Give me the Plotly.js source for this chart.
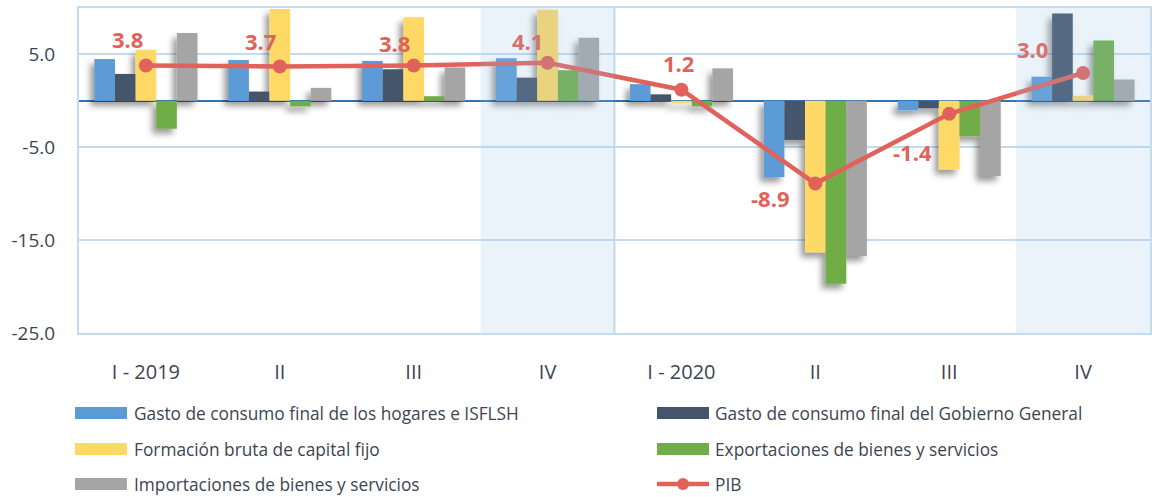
<!DOCTYPE html>
<html>
<head>
<meta charset="utf-8">
<script src="https://cdn.plot.ly/plotly-3.0.1.min.js"></script>
<style>
  html, body { margin: 0; padding: 0; background: #ffffff; }
  #chart { width: 1152px; height: 497px; }
</style>
</head>
<body>
<svg width="0" height="0" style="position:absolute">
  <defs>
    <filter id="barShadow" x="-20%" y="-20%" width="140%" height="140%">
      <feDropShadow dx="-4" dy="5" stdDeviation="3" flood-color="#000000" flood-opacity="0.4"/>
    </filter>
  </defs>
</svg>
<div id="chart"></div>
<script>
// ---- data ----
const categories = ['I - 2019', 'II', 'III', 'IV', 'I - 2020', 'II', 'III', 'IV'];
const hogares      = [4.5, 4.4, 4.3, 4.6, 1.8, -8.2, -1.0, 2.6];
const gobierno     = [2.9, 1.0, 3.4, 2.5, 0.7, -4.2, -0.8, 9.4];
const fbcf         = [5.5, 9.9, 9.0, 9.8, -0.3, -16.3, -7.4, 0.55];
const exportaciones= [-3.0, -0.6, 0.5, 3.3, -0.6, -19.7, -3.8, 6.5];
const importaciones= [7.3, 1.4, 3.6, 6.8, 3.5, -16.7, -8.1, 2.3];
const pib          = [3.8, 3.7, 3.8, 4.1, 1.2, -8.9, -1.4, 3.0];
const seriesNames = [
  'Gasto de consumo final de los hogares e ISFLSH',
  'Gasto de consumo final del Gobierno General',
  'Formación bruta de capital fijo',
  'Exportaciones de bienes y servicios',
  'Importaciones de bienes y servicios',
  'PIB'
];
const yTicks = [5, -5, -15, -25];
const shadedIdx = [3, 7];

// ---- style ----
const colors = ['#5B9BD5', '#44546A', '#FFD966', '#70AD47', '#A5A5A5', '#E0625A'];
const fadedLabel = '#D8716D';
const textColor = '#3D4552';
const W = 1152, H = 497;
const M = {l: 79, r: 2, t: 8, b: 164};
const pw = W - M.l - M.r, ph = H - M.t - M.b;
const px2x = p => (p - M.l) / pw;
const py2y = p => (H - M.b - p) / ph;

const xIdx = categories.map((_, i) => i);
const barSeries = [hogares, gobierno, fbcf, exportaciones, importaciones];

const traces = barSeries.map((vals, i) => ({
  type: 'bar',
  x: xIdx,
  y: vals,
  name: seriesNames[i],
  marker: {color: colors[i], line: {width: 0}},
  hoverinfo: 'skip'
}));
traces.push({
  type: 'scatter',
  mode: 'lines+markers',
  x: xIdx,
  y: pib,
  name: seriesNames[5],
  line: {color: colors[5], width: 4.5},
  marker: {color: colors[5], size: 14},
  hoverinfo: 'skip'
});

// PIB labels
const labelOffsets = [[-18, 27], [-19, 26], [-19, 23], [-20, 22], [-3, 27], [-45, -14], [-37, -38], [-51, 24]];
const annotations = pib.map((v, i) => ({
  x: xIdx[i], y: v, xref: 'x', yref: 'y',
  text: '<b>' + v.toFixed(1) + '</b>',
  showarrow: false,
  xshift: labelOffsets[i][0], yshift: labelOffsets[i][1],
  font: {family: 'Open Sans, sans-serif', size: 22, color: shadedIdx.includes(i) ? fadedLabel : colors[5]}
}));

const shapes = [];
// shaded quarters (above everything)
shadedIdx.forEach(i => shapes.push({
  type: 'rect', xref: 'x', yref: 'paper', x0: i - 0.5, x1: i + 0.5, y0: 0, y1: 1,
  fillcolor: 'rgba(150,190,230,0.2)', line: {width: 0}, layer: 'above'
}));
// year separator
shapes.push({
  type: 'line', xref: 'x', yref: 'paper', x0: 3.5, x1: 3.5, y0: 0, y1: 1,
  line: {color: '#C5DCF0', width: 2}, layer: 'below'
});

// manual legend
const rowY = [413, 449, 484];
const colSw = [[75, 127], [657, 709]];
const colTx = [132, 713];
seriesNames.forEach((name, i) => {
  const col = i % 2, row = Math.floor(i / 2);
  const cy = rowY[row];
  if (i < 5) {
    shapes.push({
      type: 'rect', xref: 'paper', yref: 'paper',
      x0: px2x(colSw[col][0]), x1: px2x(colSw[col][1]),
      y0: py2y(cy + 6), y1: py2y(cy - 6),
      fillcolor: colors[i], line: {width: 0}
    });
  } else {
    shapes.push({
      type: 'line', xref: 'paper', yref: 'paper',
      x0: px2x(colSw[col][0]), x1: px2x(colSw[col][1]),
      y0: py2y(cy), y1: py2y(cy),
      line: {color: colors[5], width: 4.5}
    });
    const mx = (colSw[col][0] + colSw[col][1]) / 2;
    shapes.push({
      type: 'circle', xref: 'paper', yref: 'paper',
      x0: px2x(mx - 6), x1: px2x(mx + 6),
      y0: py2y(cy + 6), y1: py2y(cy - 6),
      fillcolor: colors[5], line: {width: 0}
    });
  }
  annotations.push({
    xref: 'paper', yref: 'paper', x: px2x(colTx[col]), y: py2y(cy),
    xanchor: 'left', yanchor: 'middle', showarrow: false,
    text: name,
    font: {family: 'Open Sans, sans-serif', size: 17.3, color: textColor}
  });
});

const layout = {
  width: W, height: H,
  margin: M,
  paper_bgcolor: '#ffffff',
  plot_bgcolor: '#ffffff',
  barmode: 'group',
  bargap: 0.23,
  bargroupgap: 0,
  showlegend: false,
  font: {family: 'Open Sans, sans-serif', color: textColor},
  xaxis: {
    range: [-0.5, 7.5],
    tickvals: xIdx,
    ticktext: categories,
    showgrid: false,
    zeroline: false,
    showline: true, mirror: true, linecolor: '#C5DCF0', linewidth: 2,
    ticks: '',
    ticklabelstandoff: 20,
    tickfont: {family: 'Open Sans, sans-serif', size: 20, color: textColor},
    fixedrange: true
  },
  yaxis: {
    range: [-25, 10],
    tickvals: yTicks,
    ticktext: yTicks.map(v => v.toFixed(1)),
    showgrid: true, gridcolor: '#C5DCF0', gridwidth: 2,
    zeroline: true, zerolinecolor: '#2E75B6', zerolinewidth: 2,
    showline: true, mirror: true, linecolor: '#C5DCF0', linewidth: 2,
    ticks: '',
    ticklabelstandoff: 18,
    tickfont: {family: 'Open Sans, sans-serif', size: 19, color: textColor},
    fixedrange: true
  },
  shapes: shapes,
  annotations: annotations
};

Plotly.newPlot('chart', traces, layout, {displayModeBar: false, staticPlot: true}).then(gd => {
  gd.querySelectorAll('.barlayer').forEach(el => el.setAttribute('filter', 'url(#barShadow)'));
});
</script>
</body>
</html>
